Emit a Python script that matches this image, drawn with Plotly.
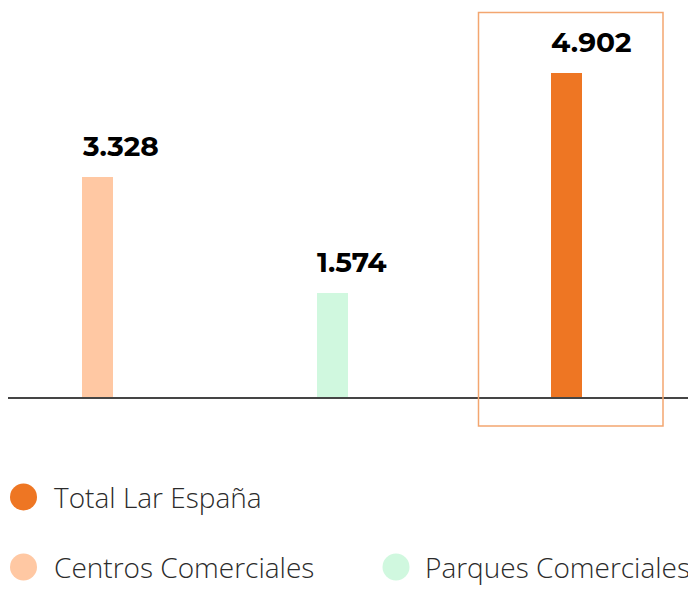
import plotly.graph_objects as go

categories = ["Centros Comerciales", "Parques Comerciales", "Total Lar España"]
values = [3.328, 1.574, 4.902]
labels = ["3.328", "1.574", "4.902"]
colors = ["#FFC8A3", "#D0F8DF", "#EE7623"]
positions = [0, 1, 2]

# page has an 8px body margin, so the figure is drawn 8px smaller
OFF = 8
W, H = 696 - OFF, 591 - OFF
L, B = 0, 194
plot_w = W - L
plot_h = H - B
x_range = [-0.3817, 2.552]
y_range = [0, 5.894]
bar_w = 0.132

fig = go.Figure()
fig.add_trace(go.Bar(
    x=positions, y=values, width=bar_w,
    marker=dict(color=colors, line=dict(width=0)),
    showlegend=False, hoverinfo="skip",
))

for p, v, t in zip(positions, values, labels):
    fig.add_annotation(
        x=p - bar_w / 2, y=v, xref="x", yref="y", text=f"<b>{t}</b>",
        showarrow=False, xanchor="left", yanchor="middle", yshift=31, xshift=-2,
        font=dict(family="Montserrat, Open Sans, sans-serif", size=28, color="#000000"),
    )

def px_to_paper_x(px):
    return (px - OFF - L) / plot_w

def px_to_paper_y(py):
    return (plot_h - (py - OFF)) / plot_h

# highlight frame around total bar
fig.add_shape(
    type="rect", xref="paper", yref="paper",
    x0=px_to_paper_x(478.5), x1=px_to_paper_x(663),
    y0=px_to_paper_y(426), y1=px_to_paper_y(12.5),
    line=dict(color="#F3A670", width=1.5), fillcolor="rgba(0,0,0,0)",
)

# custom legend: order and placement as in the reference
legend_items = [
    (2, 23.5, 497, 52),
    (0, 23.5, 567, 52),
    (1, 396, 567, 423),
]
r = 13.5
for idx, cx, cy, tx in legend_items:
    fig.add_shape(
        type="circle", xref="paper", yref="paper",
        x0=px_to_paper_x(cx - r), x1=px_to_paper_x(cx + r),
        y0=px_to_paper_y(cy + r), y1=px_to_paper_y(cy - r),
        line=dict(width=0), fillcolor=colors[idx],
    )
    fig.add_annotation(
        x=px_to_paper_x(tx), y=px_to_paper_y(cy), xref="paper", yref="paper",
        text=categories[idx], showarrow=False, xanchor="left", yanchor="middle",
        font=dict(family="Open Sans, sans-serif", size=28, color="#2b2b2b", weight=300),
    )

fig.update_layout(
    width=W, height=H,
    margin=dict(l=L, r=0, t=0, b=B, pad=0),
    paper_bgcolor="white", plot_bgcolor="white",
    xaxis=dict(range=x_range, showgrid=False, zeroline=False, showticklabels=False,
               showline=True, linecolor="#454545", linewidth=1.5, ticks=""),
    yaxis=dict(range=y_range, showgrid=False, zeroline=False, showticklabels=False,
               showline=False, ticks=""),
    bargap=0,
)

fig.write_html("out.html")
